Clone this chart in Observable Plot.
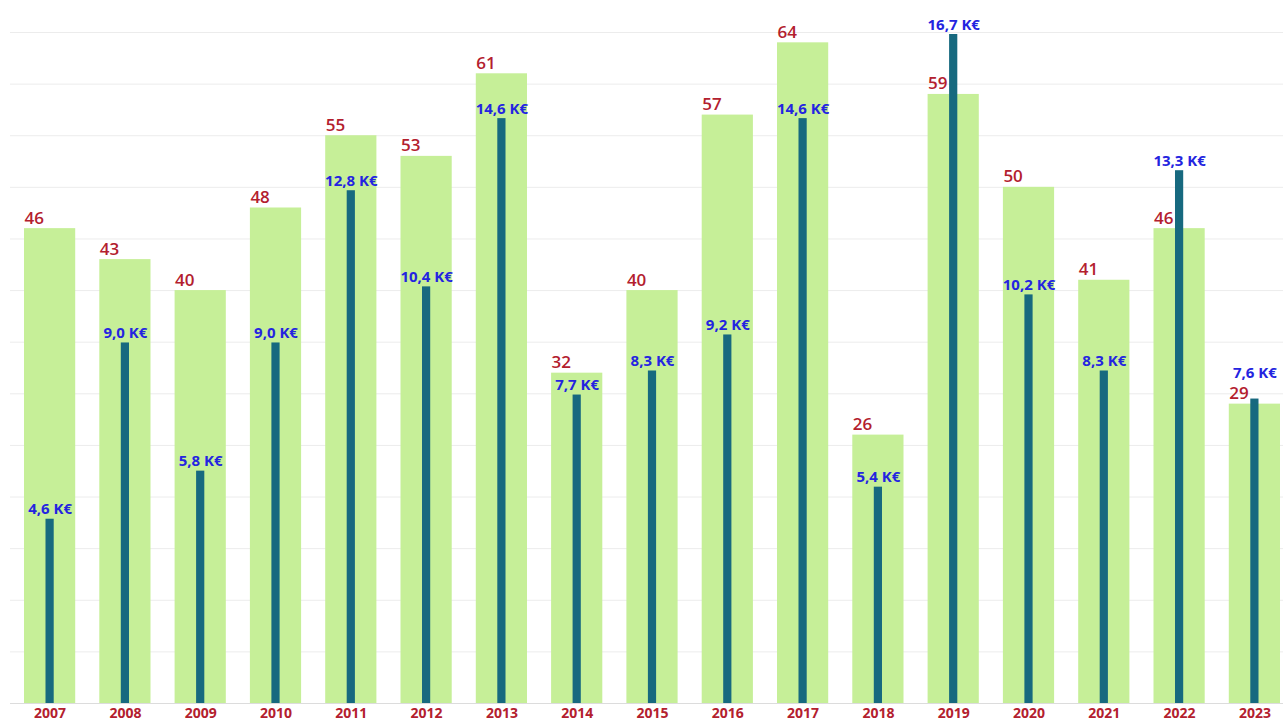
<!DOCTYPE html>
<html>
<head>
<meta charset="utf-8">
<script src="https://cdn.jsdelivr.net/npm/d3@7"></script>
<script src="https://cdn.jsdelivr.net/npm/@observablehq/plot@0.6"></script>
<style>
  html, body { margin: 0; padding: 0; background: #fff; }
  #chart svg { display: block; }
</style>
</head>
<body>
<div id="chart"></div>
<script>
const years = ["2007","2008","2009","2010","2011","2012","2013","2014","2015","2016","2017","2018","2019","2020","2021","2022","2023"];
const counts = [46, 43, 40, 48, 55, 53, 61, 32, 40, 57, 64, 26, 59, 50, 41, 46, 29];
const amountsK = [4.6, 9.0, 5.8, 9.0, 12.8, 10.4, 14.6, 7.7, 8.3, 9.2, 14.6, 5.4, 16.7, 10.2, 8.3, 13.3, 7.6];

const countMax = 65;
const amountMax = 16.75;
const F = countMax / amountMax; // secondary axis mapped onto primary

const data = years.map((y, i) => ({
  year: y,
  count: counts[i],
  amount: amountsK[i],
  amountY: amountsK[i] * F,
  label: amountsK[i].toFixed(1).replace(".", ",") + " K€"
}));
// blue label would collide with the red label -> lift it above
const isClash = d => Math.abs(d.amountY - d.count) < 1.2;

const font = "'Open Sans', 'Noto Sans', sans-serif";
const red = "#b3202e";
const blue = "#2424e0";

const chart = Plot.plot({
  width: 1283,
  height: 724,
  marginLeft: 10,
  marginRight: 0,
  marginTop: 32,
  marginBottom: 21,
  style: { fontFamily: font, background: "#fff" },
  x: { domain: years, range: [24, 1280], paddingInner: 0.32, paddingOuter: 0, round: false, label: null },
  y: { domain: [0, countMax], axis: null },
  marks: [
    Plot.ruleY(d3.range(5, countMax + 1, 5), { stroke: "#ececec", strokeWidth: 1 }),
    Plot.barY(data, { x: "year", y: "count", fill: "#c6ef98" }),
    Plot.ruleY([0], { stroke: "#dcdcdc", strokeWidth: 1 }),
    Plot.barY(data, { x: "year", y: "amountY", fill: "#17697f", inset: 0, insetLeft: 21.5, insetRight: 21.5 }),
    Plot.text(data, {
      x: "year", y: "count", text: d => String(d.count),
      textAnchor: "start", lineAnchor: "bottom", dx: -25.6, dy: -5,
      fill: red, fontSize: 17, fontWeight: 600, fontFamily: font
    }),
    Plot.text(data.filter(d => !isClash(d)), {
      x: "year", y: "amountY", text: "label",
      lineAnchor: "bottom", dy: -5,
      fill: blue, fontSize: 15, fontWeight: 700, fontFamily: font
    }),
    Plot.text(data.filter(isClash), {
      x: "year", y: "amountY", text: "label",
      lineAnchor: "bottom", dy: -21,
      fill: blue, fontSize: 15, fontWeight: 700, fontFamily: font
    }),
    Plot.axisX({
      tickSize: 0, tickPadding: 5, fontSize: 14, fontWeight: 700,
      fill: red, color: red, label: null, fontFamily: font
    })
  ]
});
document.getElementById("chart").appendChild(chart);
</script>
</body>
</html>
